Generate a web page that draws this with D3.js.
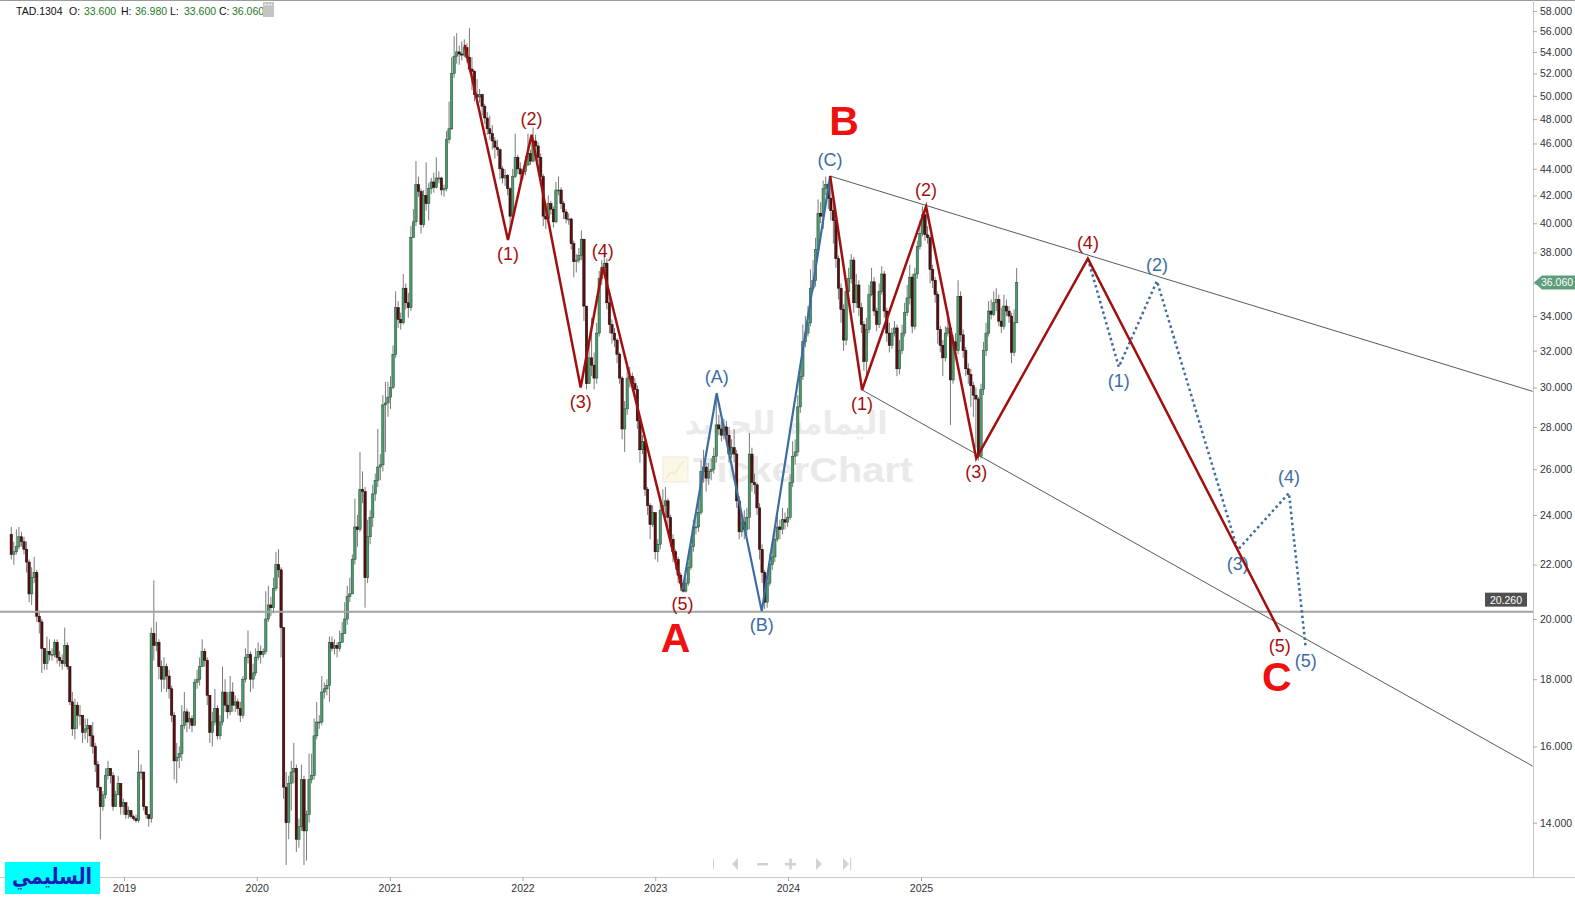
<!DOCTYPE html>
<html><head><meta charset="utf-8">
<script src="https://cdn.jsdelivr.net/npm/d3@7"></script>
<style>body{margin:0;background:#fff;} svg{display:block;font-family:"Liberation Sans",Arial,sans-serif;}</style>
</head><body><svg id="c" width="1575" height="899"></svg>
<script>
// ---------- DATA ----------
const symbol = "TAD.1304";
const headerLabels = ["O:", "H:", "L:", "C:"];
const headerValues = ["33.600", "36.980", "33.600", "36.060"];
const lastDate = "2025-09-21";     // week of the last candle
const firstOpen = 23.2;
// weekly candles: [close, high, low]  (open = previous close)
const candlesCHL = [
 // 2018 - early 2020
 [22.4,23.5,22.2],[22.5,22.9,22.0],[22.7,23.4,22.4],[23.1,23.5,22.6],[22.9,23.3,22.7],[22.6,23.1,22.4],[22.1,22.9,21.7],[20.9,22.2,20.6],[21.5,21.9,20.5],[21.7,22.3,21.3],
 [20.1,21.8,19.9],[19.9,20.3,19.5],[19.0,20.0,18.2],[18.5,18.9,18.3],[18.9,19.4,18.3],[18.8,19.3,18.6],[18.8,19.0,18.6],[19.2,19.3,18.7],[18.7,19.3,18.5],[18.6,18.9,18.4],
 [18.5,18.8,18.3],[19.1,19.7,18.4],[18.4,19.2,18.3],[17.3,18.4,17.2],[16.5,17.6,16.3],[17.2,17.4,16.2],[16.9,17.3,16.5],[16.9,17.2,16.6],[16.4,16.9,16.1],[16.5,16.8,16.2],
 [16.6,16.8,16.1],[16.3,16.6,16.0],[16.0,16.7,15.8],[15.5,16.1,15.3],[14.9,15.6,14.8],[14.4,14.9,13.6],[14.7,14.8,14.3],[15.2,15.4,14.6],[15.4,15.6,15.1],[15.2,15.4,15.0],
 [14.4,15.3,14.3],[14.7,14.8,14.4],[15.0,15.2,14.7],[14.4,15.0,14.2],[14.5,14.6,14.2],[14.2,14.5,14.1],[14.3,14.4,14.1],[14.15,14.3,14.1],[14.1,14.2,14.05],[14.05,14.2,14.0],
 [15.3,15.9,14.0],[15.3,15.5,15.1],[14.4,15.3,14.3],[14.2,14.4,14.1],[14.1,14.2,13.9],[19.5,19.7,14.0],[19.1,21.4,18.6],[19.2,19.9,18.9],[18.4,19.3,18.0],[18.0,18.6,17.6],
 [18.4,18.7,17.7],[18.1,18.5,17.6],[17.7,18.3,17.4],[16.9,17.8,16.7],[15.6,17.0,15.1],[15.7,16.1,15.0],[15.8,16.0,15.4],[16.6,17.2,15.6],[17.0,17.6,16.5],[16.7,17.1,16.4],
 [16.8,17.0,16.5],[16.6,16.9,16.4],[17.9,18.0,16.6],[18.0,18.3,17.7],[18.4,18.7,17.8],[18.9,19.3,18.4],[18.6,19.0,18.4],[17.5,18.7,17.2],[16.4,17.5,16.1],[16.7,17.0,16.0],
 [17.1,17.7,16.6],[16.3,17.2,16.2],[16.7,16.9,16.2],[17.6,18.4,16.6],[17.2,18.0,17.0],[17.0,17.6,16.8],[17.6,18.1,16.9],[17.2,17.9,17.0],[17.3,17.5,17.0],[17.1,17.4,16.9],
 [16.9,17.3,16.7],[18.0,18.1,16.8],[18.7,19.0,17.9],[18.8,19.6,18.5],[18.0,18.9,17.6],[18.2,18.5,17.7],[18.7,19.0,18.1],[18.9,19.2,18.6],[18.8,19.1,18.5],[18.9,19.0,18.7],
 [20.0,21.0,18.8],[20.5,21.2,19.9],[20.4,20.8,20.1],[21.1,21.5,20.2],[22.0,22.5,21.0],[21.8,22.6,21.5],[19.7,21.9,18.7],
 // 2020 crash - 2020 end
 [14.9,18.0,14.6],[14.0,15.3,13.0],[15.0,15.2,13.6],[15.3,15.6,14.3],[15.4,16.1,15.0],[13.6,15.5,13.3],[13.9,14.1,13.4],[15.1,15.5,13.8],[13.8,15.2,13.0],[14.2,14.3,13.1],
 [15.1,15.8,14.0],[15.2,15.8,15.0],[16.3,16.8,15.1],[16.7,17.3,16.2],[16.7,16.9,16.5],[17.6,18.1,16.6],[17.7,17.9,17.4],[17.8,18.0,17.5],[19.2,19.4,17.3],[19.0,19.4,18.9],
 [19.1,19.3,18.8],[19.0,19.2,18.7],[19.2,19.6,18.9],[19.5,19.9,19.2],[20.0,20.6,19.5],[20.8,21.2,19.8],[20.9,21.5,20.6],[22.2,22.4,21.0],[23.5,24.7,22.0],[23.4,24.0,22.7],
 [25.1,26.8,23.3],[25.0,25.9,24.5],[21.5,25.2,20.4],[23.1,23.8,21.3],[23.9,24.2,22.8],[24.9,25.3,23.5],[25.5,25.8,24.6],[26.1,27.9,25.2],[26.2,26.7,25.5],[29.1,29.6,25.9],
 [29.2,30.3,26.8],[29.5,30.3,28.5],[30.0,30.6,28.9],
 // 2021 - mid 2022
 [31.8,32.3,29.9],[34.5,35.5,31.6],[33.8,34.9,33.3],[33.6,34.2,33.2],[35.7,36.6,33.5],[34.8,36.0,34.4],[34.5,35.4,33.9],[39.0,39.8,34.3],[40.1,41.0,39.0],[42.8,44.6,39.8],
 [42.3,43.4,41.9],[39.9,42.5,39.3],[42.0,42.4,39.7],[41.4,44.5,40.9],[42.5,42.9,40.2],[43.0,43.3,42.1],[42.6,43.7,42.2],[43.3,44.9,42.5],[43.3,43.8,42.9],[42.4,43.4,42.0],
 [42.5,42.8,41.9],[46.3,47.0,42.3],[47.2,49.5,46.0],[52.0,53.5,47.1],[53.6,55.5,51.6],[54.0,55.8,52.9],[53.8,54.6,52.8],[53.7,55.0,53.2],[54.4,55.2,53.5],[53.5,54.8,53.0],
 [52.4,56.3,52.1],[52.2,53.5,50.5],[50.1,52.3,49.5],[49.9,51.5,49.2],[50.1,50.6,49.4],[49.1,50.2,48.3],[48.1,49.3,47.6],[47.2,48.6,46.7],[46.8,48.3,46.3],[46.2,47.5,45.5],
 [45.7,46.5,44.8],[45.5,46.3,45.0],[44.0,45.6,43.2],[43.3,44.2,42.9],[43.5,44.0,42.7],[42.5,43.6,42.0],[40.5,42.6,39.6],[43.4,44.0,40.3],[44.9,46.8,43.3],[44.0,45.1,43.6],
 [43.6,44.5,43.0],[43.8,44.0,43.2],[44.3,45.0,43.5],[45.2,46.8,44.2],[44.6,45.5,44.3],[46.2,47.3,44.5],[45.8,46.7,45.3],[44.9,46.1,44.5],[43.4,45.2,42.8],[40.5,43.6,39.8],
 [40.3,41.5,39.6],[41.4,42.0,40.1],[41.0,41.6,40.6],[40.1,41.2,39.7],[42.4,43.0,40.0],[42.4,43.4,42.0],[41.4,42.6,41.0],[40.8,41.6,40.3],[40.3,41.0,40.0],[40.3,40.7,39.9],
 [38.6,40.4,38.2],[37.4,38.8,36.4],[37.5,37.9,36.7],[37.8,38.3,37.3],[38.9,39.5,37.5],[34.6,38.8,33.7],
 // mid 2022 - 2023
 [30.2,33.8,29.9],[31.6,32.4,30.3],[31.2,33.9,30.6],[30.5,31.9,29.9],[33.0,33.6,30.2],[36.3,36.8,32.8],[37.0,37.5,35.9],[37.3,38.2,36.8],[34.8,37.6,34.4],[33.5,35.1,33.0],
 [33.0,33.8,32.4],[32.6,33.3,32.2],[31.8,32.7,31.3],[30.5,31.9,30.2],[27.9,30.6,27.4],[28.9,29.3,26.8],[30.5,31.2,28.6],[30.6,31.1,30.0],[30.2,30.8,29.8],[29.9,30.5,29.5],
 [28.3,30.1,27.9],[26.9,28.5,26.3],[27.3,27.6,26.7],[25.1,27.4,24.8],[24.4,25.2,24.0],[23.6,24.5,23.0],[24.1,24.4,23.5],[22.5,24.0,22.2],[22.8,23.0,22.1],[24.2,24.6,22.6],
 [24.4,25.1,24.0],[24.6,25.2,23.7],[23.9,24.7,23.5],[23.0,24.0,22.7],[22.5,23.2,22.1],[22.2,22.6,21.8],[21.6,22.3,21.3],[21.3,21.7,21.0],[21.0,21.4,20.95],[21.3,21.5,20.95],
 [21.9,22.1,21.2],[22.7,22.9,21.8],[23.5,23.8,22.5],[23.5,24.0,23.2],[24.1,24.8,23.3],[25.9,26.4,24.0],[26.1,26.9,25.4],[25.6,26.3,25.0],[25.9,26.3,25.3],[26.0,26.5,25.5],
 [26.6,27.0,25.8],[28.1,29.4,26.3],[27.9,28.6,27.6],[27.6,28.4,27.3],[28.0,28.4,27.4],[27.6,28.3,27.2],[26.7,28.0,26.3],[27.0,27.4,26.5],[26.7,27.9,26.3],[24.6,26.9,24.3],
 [23.3,24.8,23.0],[23.7,24.0,23.1],[23.4,24.2,23.0],[23.9,24.3,23.2],[26.7,27.7,23.4],[25.4,27.0,25.0],[25.3,25.8,24.9],[24.3,25.4,24.0],[22.6,24.5,22.2],[21.7,22.8,21.3],
 [20.6,21.8,20.35],[21.3,21.6,20.4],[22.0,22.4,21.2],[22.3,22.9,21.8],[23.0,23.4,22.1],[23.5,24.1,22.9],[23.4,23.8,23.0],[23.8,24.3,23.2],
 // 2024 - 2025
 [23.7,24.1,23.4],[23.9,24.3,23.5],[25.4,25.8,23.8],[26.6,27.3,25.2],[26.8,27.4,26.2],[29.0,29.6,26.6],[30.6,31.2,28.7],[32.5,33.5,30.4],[33.0,34.0,32.2],[33.6,34.6,32.8],
 [35.7,36.9,33.4],[36.2,37.5,35.5],[38.2,39.0,35.8],[40.7,41.7,38.0],[40.5,41.5,40.0],[42.5,43.1,39.6],[42.8,43.4,42.0],[41.8,43.0,41.0],[40.9,43.45,40.2],[40.2,41.5,38.6],
 [37.6,40.4,37.0],[35.7,37.8,35.0],[34.4,36.0,33.6],[32.6,34.7,32.0],[35.5,36.3,32.3],[36.3,37.0,35.3],[37.5,37.9,36.0],[34.8,37.7,34.2],[35.9,36.6,34.5],[34.5,36.2,34.0],
 [33.5,34.8,33.0],[31.4,33.7,30.9],[33.2,33.9,30.5],[35.3,35.9,33.0],[36.1,37.0,35.2],[34.3,36.4,34.0],[33.5,34.5,33.1],[35.5,36.0,33.3],[36.6,37.1,35.3],[34.3,36.8,33.9],
 [33.0,34.5,32.5],[32.3,33.6,31.9],[33.0,33.3,32.1],[33.3,33.7,32.8],[31.0,33.5,30.6],[32.0,32.6,30.7],[33.0,33.5,31.8],[34.2,34.8,32.8],[35.1,35.9,34.0],[36.4,37.2,34.7],
 [33.4,36.6,33.0],[36.6,37.0,33.2],[38.4,38.8,36.3],[39.3,40.2,38.2],[40.6,41.2,39.1],[39.2,40.9,38.8],[39.0,39.8,38.6],[36.9,39.2,36.0],[36.2,37.2,35.7],[35.3,36.4,34.8],
 [33.2,35.5,32.4],[32.3,33.4,31.9],[31.6,32.6,30.6],[33.0,33.4,31.4],[33.3,34.3,32.8],[30.4,33.5,28.1],[32.5,32.9,30.2],[32.0,33.0,31.7],[35.2,36.2,31.8],[32.9,35.5,32.5],
 [32.0,33.2,31.6],[31.0,32.2,30.6],[30.7,31.3,30.2],[30.1,31.0,29.0],[29.6,30.3,28.5],[29.4,30.0,27.0],[26.6,29.5,26.4],[29.9,30.2,26.5],[32.0,32.5,29.6],[33.0,33.6,31.7],
 [34.3,34.9,32.8],[34.1,35.0,33.8],[34.8,35.5,34.0],[35.0,35.7,34.3],[33.7,35.3,33.4],[33.4,34.5,33.0],[34.6,35.3,33.2],[34.3,35.0,34.0],[34.0,34.6,33.6],[31.9,34.2,31.3],
 [33.6,34.4,31.7],[36.06,36.98,33.6]
];
const yTicks = [14,16,18,20,22,24,26,28,30,32,34,36,38,40,42,44,46,48,50,52,54,56,58];
const yearTicks = ["2019","2020","2021","2022","2023","2024","2025"];
const supportLevel = 20.26;
const lastPrice = 36.06;
// Elliott wave annotations: [date, price, label]
const waveImpulseA = [["2021-07-26",54.65,""],["2021-11-22",38.85,"(1)"],["2022-01-26",46.7,"(2)"],["2022-06-10",30.0,"(3)"],["2022-08-10",37.05,"(4)"],["2023-03-17",21.04,"(5)"]];
const waveCorrectionB = [["2023-03-17",21.04,""],["2023-06-19",29.7,"(A)"],["2023-10-21",20.28,"(B)"],["2024-04-26",43.45,"(C)"]];
const waveImpulseC = [["2024-04-26",43.45,""],["2024-07-23",29.87,"(1)"],["2025-01-15",41.2,"(2)"],["2025-06-02",26.5,"(3)"],["2026-04-05",37.6,"(4)"],["2027-09-15",19.55,"(5)"]];
const waveSub5 = [["2026-04-05",37.6,""],["2026-06-29",31.1,"(1)"],["2026-10-12",36.15,"(2)"],["2027-05-22",22.57,"(3)"],["2027-10-10",24.94,"(4)"],["2027-11-25",19.04,"(5)"]];
const channelUpper = [["2024-04-26",43.45],["2029-08-10",29.8]];
const channelLower = [["2024-07-23",29.87],["2029-08-10",15.46]];
const degreeLabels = [["A","2023-03-17",21.04],["B","2024-04-26",43.45],["C","2027-09-15",19.55]];
const watermarkAr = "اليمامة للحديد";
const watermarkEn = "TickerChart";
const logoText = "السليمي";

// ---------- STYLE / LAYOUT ----------
const W = 1575, H = 899, axisX = 1533, axisY = 877;
const RED = "#a20f0f", BLUE = "#3b6da3", BIG = "#f01010";
const degreeOffsets = {A:[-7,48], B:[14,-55], C:[-3,45]};

const parse = d3.timeParse("%Y-%m-%d");
const svg = d3.select("#c");
const x = d3.scaleTime().domain([parse("2019-01-01"), parse("2025-01-01")]).range([124, 921]);
const y = d3.scaleLog().domain([14, 58]).range([822.7, 11.1]);

// frame lines
svg.append("line").attr("x1",0).attr("x2",W).attr("y1",0.5).attr("y2",0.5).attr("stroke","#9a9a9a");
svg.append("line").attr("x1",0).attr("x2",W).attr("y1",axisY+0.5).attr("y2",axisY+0.5).attr("stroke","#c8c8c8");
svg.append("line").attr("x1",axisX+0.5).attr("x2",axisX+0.5).attr("y1",0).attr("y2",axisY).attr("stroke","#c8c8c8");

// watermark
const wm = svg.append("g");
wm.append("text").attr("x",786).attr("y",434).attr("text-anchor","middle")
  .attr("font-family","'DejaVu Sans',sans-serif").attr("font-weight","bold").attr("font-size",31)
  .attr("fill","#ebebeb").attr("textLength",203).attr("lengthAdjust","spacingAndGlyphs").text(watermarkAr);
wm.append("rect").attr("x",663).attr("y",457).attr("width",25).attr("height",25).attr("fill","#fcf8e8").attr("stroke","#efeadb");
wm.append("path").attr("d","M666,478 L671,472 L675,474 L680,465 L685,461").attr("fill","none").attr("stroke","#f3ebc8").attr("stroke-width",1.5);
wm.append("text").attr("x",693).attr("y",482).attr("font-weight","bold").attr("font-size",35)
  .attr("fill","#e9e9e9").attr("textLength",220).attr("lengthAdjust","spacingAndGlyphs").text(watermarkEn);

// candles
const last = parse(lastDate);
const N = candlesCHL.length;
const candles = candlesCHL.map((r, i) => {
  const o = i === 0 ? firstOpen : candlesCHL[i-1][0];
  const c = r[0];
  return {d: d3.timeDay.offset(last, 7*(i-N+1)), o, c, h: Math.max(r[1], o, c), l: Math.min(r[2], o, c)};
});
const cg = svg.append("g");
cg.selectAll("line.w").data(candles).join("line")
  .attr("x1", d => x(d.d)).attr("x2", d => x(d.d))
  .attr("y1", d => y(d.h)).attr("y2", d => y(d.l))
  .attr("stroke", "#7a7a7a").attr("stroke-width", 1);
cg.selectAll("rect").data(candles).join("rect")
  .attr("x", d => x(d.d) - 1.2).attr("width", 2.4)
  .attr("y", d => y(Math.max(d.o, d.c)))
  .attr("height", d => Math.max(1, Math.abs(y(d.o) - y(d.c))))
  .attr("fill", d => d.c >= d.o ? "#4f9a6c" : "#5a1010")
  .attr("stroke", d => d.c >= d.o ? "#1f4a30" : "#1a0505").attr("stroke-width", 0.5);

// support line
svg.append("line").attr("x1",0).attr("x2",axisX).attr("y1",y(supportLevel)).attr("y2",y(supportLevel))
  .attr("stroke","#a3a3a3").attr("stroke-width",2);

// channel lines
const pt = r => [x(parse(r[0])), y(r[1])];
[channelUpper, channelLower].forEach(ch => {
  const a = pt(ch[0]), b = pt(ch[1]);
  svg.append("line").attr("x1",a[0]).attr("y1",a[1]).attr("x2",b[0]).attr("y2",b[1])
    .attr("stroke","#5a5a5a").attr("stroke-width",1);
});

// wave lines + labels
function drawWave(series, color, width, dash) {
  const pts = series.map(pt);
  svg.append("path").attr("d", d3.line()(pts)).attr("fill","none").attr("stroke",color)
    .attr("stroke-width",width).attr("stroke-linejoin","miter")
    .attr("stroke-dasharray", dash || null);
  series.forEach((r, i) => {
    if (!r[2]) return;
    const top = r[1] > series[i-1][1];
    svg.append("text").attr("x", pts[i][0]).attr("y", pts[i][1] + (top ? -16 : 14))
      .attr("text-anchor","middle").attr("dominant-baseline","central")
      .attr("font-size",18).attr("fill",color).text(r[2]);
  });
}
drawWave(waveImpulseA, RED, 2.5);
drawWave(waveCorrectionB, BLUE, 2.2);
drawWave(waveSub5, BLUE, 2.5, "2.5,3");
drawWave(waveImpulseC, RED, 2.5);

degreeLabels.forEach(r => {
  const p = pt([r[1], r[2]]), off = degreeOffsets[r[0]];
  svg.append("text").attr("x", p[0]+off[0]).attr("y", p[1]+off[1])
    .attr("text-anchor","middle").attr("dominant-baseline","central")
    .attr("font-size",41).attr("font-weight","bold").attr("fill",BIG).text(r[0]);
});

// right axis
const ya = svg.append("g").attr("transform",`translate(${axisX},0)`)
  .call(d3.axisRight(y).tickValues(yTicks).tickFormat(d3.format(".3f")).tickSize(4).tickPadding(3));
ya.select(".domain").remove();
ya.selectAll(".tick line").attr("stroke","#aaa");
ya.selectAll(".tick text").attr("fill","#333").attr("font-size",10.5).attr("font-family","'Liberation Sans',Arial,sans-serif");

// bottom axis
const xa = svg.append("g").attr("transform",`translate(0,${axisY})`)
  .call(d3.axisBottom(x).tickValues(yearTicks.map(s => parse(s+"-01-01"))).tickFormat(d3.timeFormat("%Y")).tickSize(4).tickPadding(4));
xa.select(".domain").remove();
xa.selectAll(".tick line").attr("stroke","#aaa");
xa.selectAll(".tick text").attr("fill","#333").attr("font-size",10.5).attr("font-family","'Liberation Sans',Arial,sans-serif");

// last price tag
const ly = y(lastPrice);
svg.append("path").attr("d",`M${axisX+1},${ly} L${axisX+9},${ly-7} L${W},${ly-7} L${W},${ly+7} L${axisX+9},${ly+7} Z`).attr("fill","#5e9e7b");
svg.append("text").attr("x",axisX+8).attr("y",ly).attr("dominant-baseline","central")
  .attr("font-size",10.5).attr("fill","#fff").text(d3.format(".3f")(lastPrice));

// support tag
const sy = y(supportLevel);
svg.append("rect").attr("x",1485).attr("y",sy-19).attr("width",42).attr("height",14).attr("fill","#505050");
svg.append("text").attr("x",1506).attr("y",sy-12).attr("text-anchor","middle").attr("dominant-baseline","central")
  .attr("font-size",10.5).attr("fill","#fff").text(d3.format(".3f")(supportLevel));

// header
svg.append("text").attr("x",16).attr("y",15).attr("font-size",10.5).attr("fill","#111").text(symbol);
const hlx = [69,121,170,219], hvx = [84,135,184,232];
headerLabels.forEach((t,i) => {
  svg.append("text").attr("x",hlx[i]).attr("y",15).attr("font-size",10.5).attr("fill","#111").text(t);
  svg.append("text").attr("x",hvx[i]).attr("y",15).attr("font-size",10.5).attr("fill","#1f7a1f").text(headerValues[i]);
});
svg.append("rect").attr("x",263).attr("y",2).attr("width",11).attr("height",15).attr("fill","#c4c4c4");
svg.append("text").attr("x",268.5).attr("y",8).attr("text-anchor","middle").attr("font-size",9).attr("font-weight","bold").attr("fill","#fff").text("···");

// navigation controls
const nav = svg.append("g").attr("fill","#d2d2d2").attr("stroke","none");
nav.append("rect").attr("x",713).attr("y",859).attr("width",1).attr("height",10);
nav.append("path").attr("d","M738,858 L738,870 L732,864 Z");
nav.append("rect").attr("x",757).attr("y",863).attr("width",11).attr("height",2.5);
nav.append("rect").attr("x",785).attr("y",863).attr("width",11).attr("height",2.5);
nav.append("rect").attr("x",789.3).attr("y",858.5).attr("width",2.5).attr("height",11);
nav.append("path").attr("d","M816,858 L816,870 L822,864 Z");
nav.append("path").attr("d","M843,858 L843,870 L849,864 Z");
nav.append("rect").attr("x",850).attr("y",858).attr("width",1.2).attr("height",12);

// logo
svg.append("rect").attr("x",5).attr("y",862).attr("width",95).attr("height",32).attr("fill","#00ffff");
svg.append("text").attr("x",52).attr("y",884).attr("text-anchor","middle")
  .attr("font-family","'DejaVu Sans',sans-serif").attr("font-weight","bold").attr("font-size",22)
  .attr("textLength",80).attr("lengthAdjust","spacingAndGlyphs")
  .attr("fill","#1a1ab4").text(logoText);
</script>
</body></html>
